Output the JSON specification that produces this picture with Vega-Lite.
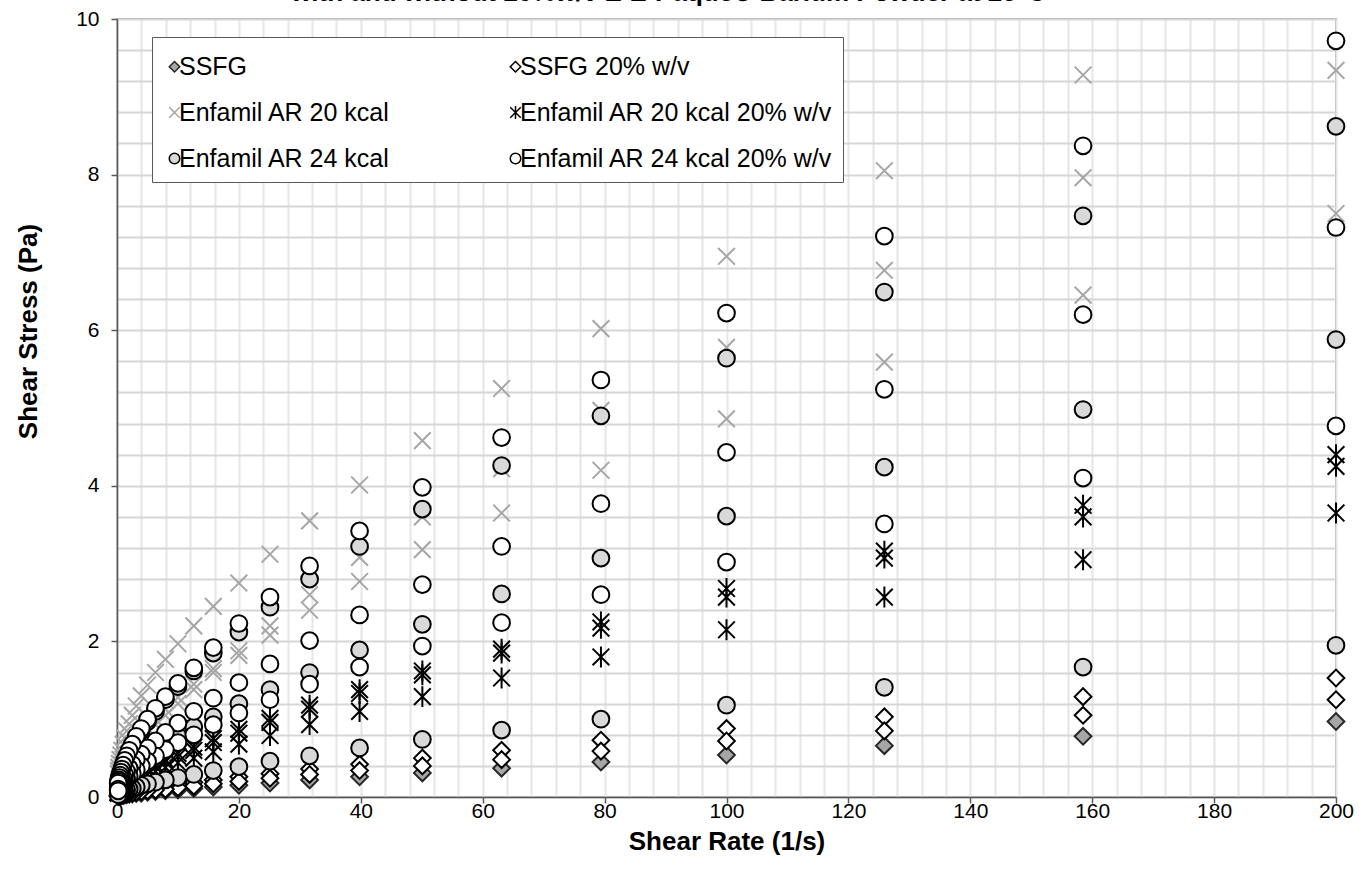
{
"$schema":"https://vega.github.io/schema/vega-lite/v6.json",
"width":1219,"height":778,
"autosize":{"type":"none"},
"padding":{"left":117,"top":19,"right":35,"bottom":72},
"background":"white",
"config":{"view":{"stroke":"#8c8c8c","strokeWidth":1.5},"font":"Liberation Sans"},
"title":{"text":"with and without 20%w/v E-Z-Paque® Barium Powder at 25°C","fontSize":26,"fontWeight":"bold","font":"Liberation Sans","color":"#000000","anchor":"middle","dx":-58,"offset":2},
"data":{"values":[
{"series":"SSFG","rate":200,"stress":0.97},{"series":"SSFG","rate":158.5,"stress":0.78},{"series":"SSFG","rate":125.9,"stress":0.66},{"series":"SSFG","rate":100,"stress":0.54},{"series":"SSFG","rate":79.4,"stress":0.45},{"series":"SSFG","rate":63.1,"stress":0.37},{"series":"SSFG","rate":50.1,"stress":0.31},{"series":"SSFG","rate":39.8,"stress":0.26},{"series":"SSFG","rate":31.6,"stress":0.22},{"series":"SSFG","rate":25.1,"stress":0.18},{"series":"SSFG","rate":20,"stress":0.15},{"series":"SSFG","rate":15.8,"stress":0.13},{"series":"SSFG","rate":12.6,"stress":0.11},{"series":"SSFG","rate":10,"stress":0.09},{"series":"SSFG","rate":7.94,"stress":0.08},{"series":"SSFG","rate":6.31,"stress":0.07},{"series":"SSFG","rate":5.01,"stress":0.06},{"series":"SSFG","rate":3.98,"stress":0.05},{"series":"SSFG","rate":3.16,"stress":0.045},{"series":"SSFG","rate":2.51,"stress":0.04},{"series":"SSFG","rate":2,"stress":0.035},{"series":"SSFG","rate":1.58,"stress":0.03},{"series":"SSFG","rate":1.26,"stress":0.025},{"series":"SSFG","rate":1,"stress":0.02},{"series":"SSFG","rate":0.794,"stress":0.018},{"series":"SSFG","rate":0.631,"stress":0.016},{"series":"SSFG","rate":0.501,"stress":0.014},{"series":"SSFG","rate":0.398,"stress":0.012},{"series":"SSFG","rate":0.316,"stress":0.011},{"series":"SSFG","rate":0.251,"stress":0.01},{"series":"SSFG","rate":0.2,"stress":0.009},
{"series":"SSFG 20% w/v","rate":200,"stress":1.53},{"series":"SSFG 20% w/v","rate":200,"stress":1.25},
{"series":"SSFG 20% w/v","rate":158.5,"stress":1.29},{"series":"SSFG 20% w/v","rate":158.5,"stress":1.05},
{"series":"SSFG 20% w/v","rate":125.9,"stress":1.03},{"series":"SSFG 20% w/v","rate":125.9,"stress":0.85},
{"series":"SSFG 20% w/v","rate":100,"stress":0.88},{"series":"SSFG 20% w/v","rate":100,"stress":0.72},
{"series":"SSFG 20% w/v","rate":79.4,"stress":0.73},{"series":"SSFG 20% w/v","rate":79.4,"stress":0.59},
{"series":"SSFG 20% w/v","rate":63.1,"stress":0.6},{"series":"SSFG 20% w/v","rate":63.1,"stress":0.48},
{"series":"SSFG 20% w/v","rate":50.1,"stress":0.5},{"series":"SSFG 20% w/v","rate":50.1,"stress":0.4},
{"series":"SSFG 20% w/v","rate":39.8,"stress":0.42},{"series":"SSFG 20% w/v","rate":39.8,"stress":0.34},
{"series":"SSFG 20% w/v","rate":31.6,"stress":0.36},{"series":"SSFG 20% w/v","rate":31.6,"stress":0.29},
{"series":"SSFG 20% w/v","rate":25.1,"stress":0.3},{"series":"SSFG 20% w/v","rate":25.1,"stress":0.24},
{"series":"SSFG 20% w/v","rate":20,"stress":0.26},{"series":"SSFG 20% w/v","rate":20,"stress":0.2},
{"series":"SSFG 20% w/v","rate":15.8,"stress":0.22},{"series":"SSFG 20% w/v","rate":15.8,"stress":0.17},
{"series":"SSFG 20% w/v","rate":12.6,"stress":0.19},{"series":"SSFG 20% w/v","rate":12.6,"stress":0.14},
{"series":"SSFG 20% w/v","rate":10,"stress":0.16},{"series":"SSFG 20% w/v","rate":10,"stress":0.12},
{"series":"SSFG 20% w/v","rate":7.94,"stress":0.14},{"series":"SSFG 20% w/v","rate":7.94,"stress":0.1},
{"series":"SSFG 20% w/v","rate":6.31,"stress":0.12},{"series":"SSFG 20% w/v","rate":6.31,"stress":0.09},
{"series":"SSFG 20% w/v","rate":5.01,"stress":0.1},{"series":"SSFG 20% w/v","rate":5.01,"stress":0.08},
{"series":"SSFG 20% w/v","rate":3.98,"stress":0.09},{"series":"SSFG 20% w/v","rate":3.98,"stress":0.07},
{"series":"SSFG 20% w/v","rate":3.16,"stress":0.08},{"series":"SSFG 20% w/v","rate":3.16,"stress":0.06},
{"series":"SSFG 20% w/v","rate":2.51,"stress":0.07},{"series":"SSFG 20% w/v","rate":2.51,"stress":0.05},
{"series":"SSFG 20% w/v","rate":2,"stress":0.06},{"series":"SSFG 20% w/v","rate":2,"stress":0.045},
{"series":"SSFG 20% w/v","rate":1.58,"stress":0.05},{"series":"SSFG 20% w/v","rate":1.58,"stress":0.04},
{"series":"SSFG 20% w/v","rate":1.26,"stress":0.045},{"series":"SSFG 20% w/v","rate":1.26,"stress":0.035},
{"series":"SSFG 20% w/v","rate":1,"stress":0.04},{"series":"SSFG 20% w/v","rate":1,"stress":0.03},
{"series":"SSFG 20% w/v","rate":0.794,"stress":0.035},{"series":"SSFG 20% w/v","rate":0.794,"stress":0.025},
{"series":"SSFG 20% w/v","rate":0.631,"stress":0.03},{"series":"SSFG 20% w/v","rate":0.631,"stress":0.022},
{"series":"SSFG 20% w/v","rate":0.501,"stress":0.027},{"series":"SSFG 20% w/v","rate":0.501,"stress":0.02},
{"series":"SSFG 20% w/v","rate":0.398,"stress":0.024},{"series":"SSFG 20% w/v","rate":0.398,"stress":0.018},
{"series":"SSFG 20% w/v","rate":0.316,"stress":0.021},{"series":"SSFG 20% w/v","rate":0.316,"stress":0.016},
{"series":"SSFG 20% w/v","rate":0.251,"stress":0.019},{"series":"SSFG 20% w/v","rate":0.251,"stress":0.014},
{"series":"SSFG 20% w/v","rate":0.2,"stress":0.017},{"series":"SSFG 20% w/v","rate":0.2,"stress":0.012},
{"series":"Enfamil AR 20 kcal","rate":200,"stress":9.34},{"series":"Enfamil AR 20 kcal","rate":200,"stress":7.5},
{"series":"Enfamil AR 20 kcal","rate":158.5,"stress":9.28},{"series":"Enfamil AR 20 kcal","rate":158.5,"stress":7.96},{"series":"Enfamil AR 20 kcal","rate":158.5,"stress":6.45},
{"series":"Enfamil AR 20 kcal","rate":125.9,"stress":8.05},{"series":"Enfamil AR 20 kcal","rate":125.9,"stress":6.77},{"series":"Enfamil AR 20 kcal","rate":125.9,"stress":5.59},
{"series":"Enfamil AR 20 kcal","rate":100,"stress":6.95},{"series":"Enfamil AR 20 kcal","rate":100,"stress":5.78},{"series":"Enfamil AR 20 kcal","rate":100,"stress":4.86},
{"series":"Enfamil AR 20 kcal","rate":79.4,"stress":6.02},{"series":"Enfamil AR 20 kcal","rate":79.4,"stress":4.97},{"series":"Enfamil AR 20 kcal","rate":79.4,"stress":4.2},
{"series":"Enfamil AR 20 kcal","rate":63.1,"stress":5.25},{"series":"Enfamil AR 20 kcal","rate":63.1,"stress":4.22},{"series":"Enfamil AR 20 kcal","rate":63.1,"stress":3.65},
{"series":"Enfamil AR 20 kcal","rate":50.1,"stress":4.58},{"series":"Enfamil AR 20 kcal","rate":50.1,"stress":3.6},{"series":"Enfamil AR 20 kcal","rate":50.1,"stress":3.18},
{"series":"Enfamil AR 20 kcal","rate":39.8,"stress":4.01},{"series":"Enfamil AR 20 kcal","rate":39.8,"stress":3.08},{"series":"Enfamil AR 20 kcal","rate":39.8,"stress":2.77},
{"series":"Enfamil AR 20 kcal","rate":31.6,"stress":3.55},{"series":"Enfamil AR 20 kcal","rate":31.6,"stress":2.6},{"series":"Enfamil AR 20 kcal","rate":31.6,"stress":2.4},
{"series":"Enfamil AR 20 kcal","rate":25.1,"stress":3.12},{"series":"Enfamil AR 20 kcal","rate":25.1,"stress":2.2},{"series":"Enfamil AR 20 kcal","rate":25.1,"stress":2.08},
{"series":"Enfamil AR 20 kcal","rate":20,"stress":2.75},{"series":"Enfamil AR 20 kcal","rate":20,"stress":1.88},{"series":"Enfamil AR 20 kcal","rate":20,"stress":1.82},
{"series":"Enfamil AR 20 kcal","rate":15.8,"stress":2.45},{"series":"Enfamil AR 20 kcal","rate":15.8,"stress":1.65},{"series":"Enfamil AR 20 kcal","rate":15.8,"stress":1.6},
{"series":"Enfamil AR 20 kcal","rate":12.6,"stress":2.2},{"series":"Enfamil AR 20 kcal","rate":12.6,"stress":1.45},{"series":"Enfamil AR 20 kcal","rate":12.6,"stress":1.38},
{"series":"Enfamil AR 20 kcal","rate":10,"stress":1.97},{"series":"Enfamil AR 20 kcal","rate":10,"stress":1.28},{"series":"Enfamil AR 20 kcal","rate":10,"stress":1.2},
{"series":"Enfamil AR 20 kcal","rate":7.94,"stress":1.77},{"series":"Enfamil AR 20 kcal","rate":7.94,"stress":1.13},{"series":"Enfamil AR 20 kcal","rate":7.94,"stress":1.05},
{"series":"Enfamil AR 20 kcal","rate":6.31,"stress":1.6},{"series":"Enfamil AR 20 kcal","rate":6.31,"stress":1.0},{"series":"Enfamil AR 20 kcal","rate":6.31,"stress":0.93},
{"series":"Enfamil AR 20 kcal","rate":5.01,"stress":1.44},{"series":"Enfamil AR 20 kcal","rate":5.01,"stress":0.88},{"series":"Enfamil AR 20 kcal","rate":5.01,"stress":0.82},
{"series":"Enfamil AR 20 kcal","rate":3.98,"stress":1.3},{"series":"Enfamil AR 20 kcal","rate":3.98,"stress":0.78},{"series":"Enfamil AR 20 kcal","rate":3.98,"stress":0.72},
{"series":"Enfamil AR 20 kcal","rate":3.16,"stress":1.17},{"series":"Enfamil AR 20 kcal","rate":3.16,"stress":0.69},{"series":"Enfamil AR 20 kcal","rate":3.16,"stress":0.64},
{"series":"Enfamil AR 20 kcal","rate":2.51,"stress":1.05},{"series":"Enfamil AR 20 kcal","rate":2.51,"stress":0.61},{"series":"Enfamil AR 20 kcal","rate":2.51,"stress":0.56},
{"series":"Enfamil AR 20 kcal","rate":2,"stress":0.94},{"series":"Enfamil AR 20 kcal","rate":2,"stress":0.54},{"series":"Enfamil AR 20 kcal","rate":2,"stress":0.5},
{"series":"Enfamil AR 20 kcal","rate":1.58,"stress":0.85},{"series":"Enfamil AR 20 kcal","rate":1.58,"stress":0.48},{"series":"Enfamil AR 20 kcal","rate":1.58,"stress":0.44},
{"series":"Enfamil AR 20 kcal","rate":1.26,"stress":0.76},{"series":"Enfamil AR 20 kcal","rate":1.26,"stress":0.42},{"series":"Enfamil AR 20 kcal","rate":1.26,"stress":0.39},
{"series":"Enfamil AR 20 kcal","rate":1,"stress":0.68},{"series":"Enfamil AR 20 kcal","rate":1,"stress":0.37},{"series":"Enfamil AR 20 kcal","rate":1,"stress":0.35},
{"series":"Enfamil AR 20 kcal","rate":0.794,"stress":0.6},{"series":"Enfamil AR 20 kcal","rate":0.794,"stress":0.33},{"series":"Enfamil AR 20 kcal","rate":0.794,"stress":0.31},
{"series":"Enfamil AR 20 kcal","rate":0.631,"stress":0.54},{"series":"Enfamil AR 20 kcal","rate":0.631,"stress":0.29},{"series":"Enfamil AR 20 kcal","rate":0.631,"stress":0.27},
{"series":"Enfamil AR 20 kcal","rate":0.501,"stress":0.48},{"series":"Enfamil AR 20 kcal","rate":0.501,"stress":0.26},{"series":"Enfamil AR 20 kcal","rate":0.501,"stress":0.24},
{"series":"Enfamil AR 20 kcal","rate":0.398,"stress":0.43},{"series":"Enfamil AR 20 kcal","rate":0.398,"stress":0.23},{"series":"Enfamil AR 20 kcal","rate":0.398,"stress":0.21},
{"series":"Enfamil AR 20 kcal","rate":0.316,"stress":0.38},{"series":"Enfamil AR 20 kcal","rate":0.316,"stress":0.2},{"series":"Enfamil AR 20 kcal","rate":0.316,"stress":0.19},
{"series":"Enfamil AR 20 kcal","rate":0.251,"stress":0.34},{"series":"Enfamil AR 20 kcal","rate":0.251,"stress":0.18},{"series":"Enfamil AR 20 kcal","rate":0.251,"stress":0.17},
{"series":"Enfamil AR 20 kcal","rate":0.2,"stress":0.3},{"series":"Enfamil AR 20 kcal","rate":0.2,"stress":0.16},{"series":"Enfamil AR 20 kcal","rate":0.2,"stress":0.15},
{"series":"Enfamil AR 20 kcal 20% w/v","rate":200,"stress":4.4},{"series":"Enfamil AR 20 kcal 20% w/v","rate":200,"stress":4.25},{"series":"Enfamil AR 20 kcal 20% w/v","rate":200,"stress":3.65},
{"series":"Enfamil AR 20 kcal 20% w/v","rate":158.5,"stress":3.75},{"series":"Enfamil AR 20 kcal 20% w/v","rate":158.5,"stress":3.6},{"series":"Enfamil AR 20 kcal 20% w/v","rate":158.5,"stress":3.05},
{"series":"Enfamil AR 20 kcal 20% w/v","rate":125.9,"stress":3.16},{"series":"Enfamil AR 20 kcal 20% w/v","rate":125.9,"stress":3.07},{"series":"Enfamil AR 20 kcal 20% w/v","rate":125.9,"stress":2.57},
{"series":"Enfamil AR 20 kcal 20% w/v","rate":100,"stress":2.68},{"series":"Enfamil AR 20 kcal 20% w/v","rate":100,"stress":2.57},{"series":"Enfamil AR 20 kcal 20% w/v","rate":100,"stress":2.15},
{"series":"Enfamil AR 20 kcal 20% w/v","rate":79.4,"stress":2.25},{"series":"Enfamil AR 20 kcal 20% w/v","rate":79.4,"stress":2.17},{"series":"Enfamil AR 20 kcal 20% w/v","rate":79.4,"stress":1.8},
{"series":"Enfamil AR 20 kcal 20% w/v","rate":63.1,"stress":1.9},{"series":"Enfamil AR 20 kcal 20% w/v","rate":63.1,"stress":1.85},{"series":"Enfamil AR 20 kcal 20% w/v","rate":63.1,"stress":1.53},
{"series":"Enfamil AR 20 kcal 20% w/v","rate":50.1,"stress":1.62},{"series":"Enfamil AR 20 kcal 20% w/v","rate":50.1,"stress":1.57},{"series":"Enfamil AR 20 kcal 20% w/v","rate":50.1,"stress":1.29},
{"series":"Enfamil AR 20 kcal 20% w/v","rate":39.8,"stress":1.38},{"series":"Enfamil AR 20 kcal 20% w/v","rate":39.8,"stress":1.33},{"series":"Enfamil AR 20 kcal 20% w/v","rate":39.8,"stress":1.1},
{"series":"Enfamil AR 20 kcal 20% w/v","rate":31.6,"stress":1.18},{"series":"Enfamil AR 20 kcal 20% w/v","rate":31.6,"stress":1.13},{"series":"Enfamil AR 20 kcal 20% w/v","rate":31.6,"stress":0.93},
{"series":"Enfamil AR 20 kcal 20% w/v","rate":25.1,"stress":1.01},{"series":"Enfamil AR 20 kcal 20% w/v","rate":25.1,"stress":0.96},{"series":"Enfamil AR 20 kcal 20% w/v","rate":25.1,"stress":0.79},
{"series":"Enfamil AR 20 kcal 20% w/v","rate":20,"stress":0.87},{"series":"Enfamil AR 20 kcal 20% w/v","rate":20,"stress":0.82},{"series":"Enfamil AR 20 kcal 20% w/v","rate":20,"stress":0.68},
{"series":"Enfamil AR 20 kcal 20% w/v","rate":15.8,"stress":0.75},{"series":"Enfamil AR 20 kcal 20% w/v","rate":15.8,"stress":0.7},{"series":"Enfamil AR 20 kcal 20% w/v","rate":15.8,"stress":0.58},
{"series":"Enfamil AR 20 kcal 20% w/v","rate":12.6,"stress":0.64},{"series":"Enfamil AR 20 kcal 20% w/v","rate":12.6,"stress":0.6},{"series":"Enfamil AR 20 kcal 20% w/v","rate":12.6,"stress":0.5},
{"series":"Enfamil AR 20 kcal 20% w/v","rate":10,"stress":0.56},{"series":"Enfamil AR 20 kcal 20% w/v","rate":10,"stress":0.52},{"series":"Enfamil AR 20 kcal 20% w/v","rate":10,"stress":0.44},
{"series":"Enfamil AR 20 kcal 20% w/v","rate":7.94,"stress":0.48},{"series":"Enfamil AR 20 kcal 20% w/v","rate":7.94,"stress":0.45},{"series":"Enfamil AR 20 kcal 20% w/v","rate":7.94,"stress":0.38},
{"series":"Enfamil AR 20 kcal 20% w/v","rate":6.31,"stress":0.42},{"series":"Enfamil AR 20 kcal 20% w/v","rate":6.31,"stress":0.39},{"series":"Enfamil AR 20 kcal 20% w/v","rate":6.31,"stress":0.33},
{"series":"Enfamil AR 20 kcal 20% w/v","rate":5.01,"stress":0.37},{"series":"Enfamil AR 20 kcal 20% w/v","rate":5.01,"stress":0.34},{"series":"Enfamil AR 20 kcal 20% w/v","rate":5.01,"stress":0.29},
{"series":"Enfamil AR 20 kcal 20% w/v","rate":3.98,"stress":0.32},{"series":"Enfamil AR 20 kcal 20% w/v","rate":3.98,"stress":0.3},{"series":"Enfamil AR 20 kcal 20% w/v","rate":3.98,"stress":0.25},
{"series":"Enfamil AR 20 kcal 20% w/v","rate":3.16,"stress":0.28},{"series":"Enfamil AR 20 kcal 20% w/v","rate":3.16,"stress":0.26},{"series":"Enfamil AR 20 kcal 20% w/v","rate":3.16,"stress":0.22},
{"series":"Enfamil AR 20 kcal 20% w/v","rate":2.51,"stress":0.25},{"series":"Enfamil AR 20 kcal 20% w/v","rate":2.51,"stress":0.23},{"series":"Enfamil AR 20 kcal 20% w/v","rate":2.51,"stress":0.19},
{"series":"Enfamil AR 20 kcal 20% w/v","rate":2,"stress":0.22},{"series":"Enfamil AR 20 kcal 20% w/v","rate":2,"stress":0.2},{"series":"Enfamil AR 20 kcal 20% w/v","rate":2,"stress":0.17},
{"series":"Enfamil AR 20 kcal 20% w/v","rate":1.58,"stress":0.19},{"series":"Enfamil AR 20 kcal 20% w/v","rate":1.58,"stress":0.18},{"series":"Enfamil AR 20 kcal 20% w/v","rate":1.58,"stress":0.15},
{"series":"Enfamil AR 20 kcal 20% w/v","rate":1.26,"stress":0.17},{"series":"Enfamil AR 20 kcal 20% w/v","rate":1.26,"stress":0.16},{"series":"Enfamil AR 20 kcal 20% w/v","rate":1.26,"stress":0.13},
{"series":"Enfamil AR 20 kcal 20% w/v","rate":1,"stress":0.15},{"series":"Enfamil AR 20 kcal 20% w/v","rate":1,"stress":0.14},{"series":"Enfamil AR 20 kcal 20% w/v","rate":1,"stress":0.11},
{"series":"Enfamil AR 20 kcal 20% w/v","rate":0.794,"stress":0.13},{"series":"Enfamil AR 20 kcal 20% w/v","rate":0.794,"stress":0.12},{"series":"Enfamil AR 20 kcal 20% w/v","rate":0.794,"stress":0.1},
{"series":"Enfamil AR 20 kcal 20% w/v","rate":0.631,"stress":0.12},{"series":"Enfamil AR 20 kcal 20% w/v","rate":0.631,"stress":0.11},{"series":"Enfamil AR 20 kcal 20% w/v","rate":0.631,"stress":0.09},
{"series":"Enfamil AR 20 kcal 20% w/v","rate":0.501,"stress":0.1},{"series":"Enfamil AR 20 kcal 20% w/v","rate":0.501,"stress":0.095},{"series":"Enfamil AR 20 kcal 20% w/v","rate":0.501,"stress":0.08},
{"series":"Enfamil AR 20 kcal 20% w/v","rate":0.398,"stress":0.09},{"series":"Enfamil AR 20 kcal 20% w/v","rate":0.398,"stress":0.085},{"series":"Enfamil AR 20 kcal 20% w/v","rate":0.398,"stress":0.07},
{"series":"Enfamil AR 20 kcal 20% w/v","rate":0.316,"stress":0.08},{"series":"Enfamil AR 20 kcal 20% w/v","rate":0.316,"stress":0.075},{"series":"Enfamil AR 20 kcal 20% w/v","rate":0.316,"stress":0.06},
{"series":"Enfamil AR 20 kcal 20% w/v","rate":0.251,"stress":0.07},{"series":"Enfamil AR 20 kcal 20% w/v","rate":0.251,"stress":0.065},{"series":"Enfamil AR 20 kcal 20% w/v","rate":0.251,"stress":0.055},
{"series":"Enfamil AR 20 kcal 20% w/v","rate":0.2,"stress":0.06},{"series":"Enfamil AR 20 kcal 20% w/v","rate":0.2,"stress":0.058},{"series":"Enfamil AR 20 kcal 20% w/v","rate":0.2,"stress":0.05},
{"series":"Enfamil AR 24 kcal","rate":200,"stress":8.62},{"series":"Enfamil AR 24 kcal","rate":200,"stress":5.88},{"series":"Enfamil AR 24 kcal","rate":200,"stress":1.95},
{"series":"Enfamil AR 24 kcal","rate":158.5,"stress":7.47},{"series":"Enfamil AR 24 kcal","rate":158.5,"stress":4.98},{"series":"Enfamil AR 24 kcal","rate":158.5,"stress":1.67},
{"series":"Enfamil AR 24 kcal","rate":125.9,"stress":6.49},{"series":"Enfamil AR 24 kcal","rate":125.9,"stress":4.24},{"series":"Enfamil AR 24 kcal","rate":125.9,"stress":1.41},
{"series":"Enfamil AR 24 kcal","rate":100,"stress":5.64},{"series":"Enfamil AR 24 kcal","rate":100,"stress":3.61},{"series":"Enfamil AR 24 kcal","rate":100,"stress":1.18},
{"series":"Enfamil AR 24 kcal","rate":79.4,"stress":4.9},{"series":"Enfamil AR 24 kcal","rate":79.4,"stress":3.07},{"series":"Enfamil AR 24 kcal","rate":79.4,"stress":1.0},
{"series":"Enfamil AR 24 kcal","rate":63.1,"stress":4.26},{"series":"Enfamil AR 24 kcal","rate":63.1,"stress":2.61},{"series":"Enfamil AR 24 kcal","rate":63.1,"stress":0.86},
{"series":"Enfamil AR 24 kcal","rate":50.1,"stress":3.7},{"series":"Enfamil AR 24 kcal","rate":50.1,"stress":2.22},{"series":"Enfamil AR 24 kcal","rate":50.1,"stress":0.74},
{"series":"Enfamil AR 24 kcal","rate":39.8,"stress":3.22},{"series":"Enfamil AR 24 kcal","rate":39.8,"stress":1.89},{"series":"Enfamil AR 24 kcal","rate":39.8,"stress":0.63},
{"series":"Enfamil AR 24 kcal","rate":31.6,"stress":2.8},{"series":"Enfamil AR 24 kcal","rate":31.6,"stress":1.6},{"series":"Enfamil AR 24 kcal","rate":31.6,"stress":0.53},
{"series":"Enfamil AR 24 kcal","rate":25.1,"stress":2.44},{"series":"Enfamil AR 24 kcal","rate":25.1,"stress":1.38},{"series":"Enfamil AR 24 kcal","rate":25.1,"stress":0.46},
{"series":"Enfamil AR 24 kcal","rate":20,"stress":2.12},{"series":"Enfamil AR 24 kcal","rate":20,"stress":1.2},{"series":"Enfamil AR 24 kcal","rate":20,"stress":0.39},
{"series":"Enfamil AR 24 kcal","rate":15.8,"stress":1.85},{"series":"Enfamil AR 24 kcal","rate":15.8,"stress":1.03},{"series":"Enfamil AR 24 kcal","rate":15.8,"stress":0.34},
{"series":"Enfamil AR 24 kcal","rate":12.6,"stress":1.62},{"series":"Enfamil AR 24 kcal","rate":12.6,"stress":0.9},{"series":"Enfamil AR 24 kcal","rate":12.6,"stress":0.29},
{"series":"Enfamil AR 24 kcal","rate":10,"stress":1.42},{"series":"Enfamil AR 24 kcal","rate":10,"stress":0.78},{"series":"Enfamil AR 24 kcal","rate":10,"stress":0.25},
{"series":"Enfamil AR 24 kcal","rate":7.94,"stress":1.25},{"series":"Enfamil AR 24 kcal","rate":7.94,"stress":0.68},{"series":"Enfamil AR 24 kcal","rate":7.94,"stress":0.22},
{"series":"Enfamil AR 24 kcal","rate":6.31,"stress":1.1},{"series":"Enfamil AR 24 kcal","rate":6.31,"stress":0.59},{"series":"Enfamil AR 24 kcal","rate":6.31,"stress":0.19},
{"series":"Enfamil AR 24 kcal","rate":5.01,"stress":0.97},{"series":"Enfamil AR 24 kcal","rate":5.01,"stress":0.52},{"series":"Enfamil AR 24 kcal","rate":5.01,"stress":0.17},
{"series":"Enfamil AR 24 kcal","rate":3.98,"stress":0.85},{"series":"Enfamil AR 24 kcal","rate":3.98,"stress":0.45},{"series":"Enfamil AR 24 kcal","rate":3.98,"stress":0.15},
{"series":"Enfamil AR 24 kcal","rate":3.16,"stress":0.75},{"series":"Enfamil AR 24 kcal","rate":3.16,"stress":0.39},{"series":"Enfamil AR 24 kcal","rate":3.16,"stress":0.13},
{"series":"Enfamil AR 24 kcal","rate":2.51,"stress":0.66},{"series":"Enfamil AR 24 kcal","rate":2.51,"stress":0.34},{"series":"Enfamil AR 24 kcal","rate":2.51,"stress":0.11},
{"series":"Enfamil AR 24 kcal","rate":2,"stress":0.58},{"series":"Enfamil AR 24 kcal","rate":2,"stress":0.3},{"series":"Enfamil AR 24 kcal","rate":2,"stress":0.1},
{"series":"Enfamil AR 24 kcal","rate":1.58,"stress":0.51},{"series":"Enfamil AR 24 kcal","rate":1.58,"stress":0.26},{"series":"Enfamil AR 24 kcal","rate":1.58,"stress":0.09},
{"series":"Enfamil AR 24 kcal","rate":1.26,"stress":0.45},{"series":"Enfamil AR 24 kcal","rate":1.26,"stress":0.23},{"series":"Enfamil AR 24 kcal","rate":1.26,"stress":0.08},
{"series":"Enfamil AR 24 kcal","rate":1,"stress":0.4},{"series":"Enfamil AR 24 kcal","rate":1,"stress":0.2},{"series":"Enfamil AR 24 kcal","rate":1,"stress":0.07},
{"series":"Enfamil AR 24 kcal","rate":0.794,"stress":0.35},{"series":"Enfamil AR 24 kcal","rate":0.794,"stress":0.18},{"series":"Enfamil AR 24 kcal","rate":0.794,"stress":0.06},
{"series":"Enfamil AR 24 kcal","rate":0.631,"stress":0.31},{"series":"Enfamil AR 24 kcal","rate":0.631,"stress":0.16},{"series":"Enfamil AR 24 kcal","rate":0.631,"stress":0.055},
{"series":"Enfamil AR 24 kcal","rate":0.501,"stress":0.27},{"series":"Enfamil AR 24 kcal","rate":0.501,"stress":0.14},{"series":"Enfamil AR 24 kcal","rate":0.501,"stress":0.05},
{"series":"Enfamil AR 24 kcal","rate":0.398,"stress":0.24},{"series":"Enfamil AR 24 kcal","rate":0.398,"stress":0.12},{"series":"Enfamil AR 24 kcal","rate":0.398,"stress":0.045},
{"series":"Enfamil AR 24 kcal","rate":0.316,"stress":0.21},{"series":"Enfamil AR 24 kcal","rate":0.316,"stress":0.11},{"series":"Enfamil AR 24 kcal","rate":0.316,"stress":0.04},
{"series":"Enfamil AR 24 kcal","rate":0.251,"stress":0.19},{"series":"Enfamil AR 24 kcal","rate":0.251,"stress":0.1},{"series":"Enfamil AR 24 kcal","rate":0.251,"stress":0.035},
{"series":"Enfamil AR 24 kcal","rate":0.2,"stress":0.17},{"series":"Enfamil AR 24 kcal","rate":0.2,"stress":0.09},{"series":"Enfamil AR 24 kcal","rate":0.2,"stress":0.03},
{"series":"Enfamil AR 24 kcal 20% w/v","rate":200,"stress":9.72},{"series":"Enfamil AR 24 kcal 20% w/v","rate":200,"stress":7.32},{"series":"Enfamil AR 24 kcal 20% w/v","rate":200,"stress":4.77},
{"series":"Enfamil AR 24 kcal 20% w/v","rate":158.5,"stress":8.37},{"series":"Enfamil AR 24 kcal 20% w/v","rate":158.5,"stress":6.2},{"series":"Enfamil AR 24 kcal 20% w/v","rate":158.5,"stress":4.1},
{"series":"Enfamil AR 24 kcal 20% w/v","rate":125.9,"stress":7.21},{"series":"Enfamil AR 24 kcal 20% w/v","rate":125.9,"stress":5.24},{"series":"Enfamil AR 24 kcal 20% w/v","rate":125.9,"stress":3.51},
{"series":"Enfamil AR 24 kcal 20% w/v","rate":100,"stress":6.22},{"series":"Enfamil AR 24 kcal 20% w/v","rate":100,"stress":4.43},{"series":"Enfamil AR 24 kcal 20% w/v","rate":100,"stress":3.02},
{"series":"Enfamil AR 24 kcal 20% w/v","rate":79.4,"stress":5.36},{"series":"Enfamil AR 24 kcal 20% w/v","rate":79.4,"stress":3.77},{"series":"Enfamil AR 24 kcal 20% w/v","rate":79.4,"stress":2.6},
{"series":"Enfamil AR 24 kcal 20% w/v","rate":63.1,"stress":4.62},{"series":"Enfamil AR 24 kcal 20% w/v","rate":63.1,"stress":3.22},{"series":"Enfamil AR 24 kcal 20% w/v","rate":63.1,"stress":2.24},
{"series":"Enfamil AR 24 kcal 20% w/v","rate":50.1,"stress":3.98},{"series":"Enfamil AR 24 kcal 20% w/v","rate":50.1,"stress":2.73},{"series":"Enfamil AR 24 kcal 20% w/v","rate":50.1,"stress":1.94},
{"series":"Enfamil AR 24 kcal 20% w/v","rate":39.8,"stress":3.42},{"series":"Enfamil AR 24 kcal 20% w/v","rate":39.8,"stress":2.34},{"series":"Enfamil AR 24 kcal 20% w/v","rate":39.8,"stress":1.67},
{"series":"Enfamil AR 24 kcal 20% w/v","rate":31.6,"stress":2.97},{"series":"Enfamil AR 24 kcal 20% w/v","rate":31.6,"stress":2.01},{"series":"Enfamil AR 24 kcal 20% w/v","rate":31.6,"stress":1.45},
{"series":"Enfamil AR 24 kcal 20% w/v","rate":25.1,"stress":2.57},{"series":"Enfamil AR 24 kcal 20% w/v","rate":25.1,"stress":1.71},{"series":"Enfamil AR 24 kcal 20% w/v","rate":25.1,"stress":1.25},
{"series":"Enfamil AR 24 kcal 20% w/v","rate":20,"stress":2.23},{"series":"Enfamil AR 24 kcal 20% w/v","rate":20,"stress":1.47},{"series":"Enfamil AR 24 kcal 20% w/v","rate":20,"stress":1.08},
{"series":"Enfamil AR 24 kcal 20% w/v","rate":15.8,"stress":1.92},{"series":"Enfamil AR 24 kcal 20% w/v","rate":15.8,"stress":1.27},{"series":"Enfamil AR 24 kcal 20% w/v","rate":15.8,"stress":0.93},
{"series":"Enfamil AR 24 kcal 20% w/v","rate":12.6,"stress":1.66},{"series":"Enfamil AR 24 kcal 20% w/v","rate":12.6,"stress":1.1},{"series":"Enfamil AR 24 kcal 20% w/v","rate":12.6,"stress":0.8},
{"series":"Enfamil AR 24 kcal 20% w/v","rate":10,"stress":1.46},{"series":"Enfamil AR 24 kcal 20% w/v","rate":10,"stress":0.95},{"series":"Enfamil AR 24 kcal 20% w/v","rate":10,"stress":0.7},
{"series":"Enfamil AR 24 kcal 20% w/v","rate":7.94,"stress":1.29},{"series":"Enfamil AR 24 kcal 20% w/v","rate":7.94,"stress":0.83},{"series":"Enfamil AR 24 kcal 20% w/v","rate":7.94,"stress":0.61},
{"series":"Enfamil AR 24 kcal 20% w/v","rate":6.31,"stress":1.14},{"series":"Enfamil AR 24 kcal 20% w/v","rate":6.31,"stress":0.72},{"series":"Enfamil AR 24 kcal 20% w/v","rate":6.31,"stress":0.53},
{"series":"Enfamil AR 24 kcal 20% w/v","rate":5.01,"stress":1.0},{"series":"Enfamil AR 24 kcal 20% w/v","rate":5.01,"stress":0.63},{"series":"Enfamil AR 24 kcal 20% w/v","rate":5.01,"stress":0.46},
{"series":"Enfamil AR 24 kcal 20% w/v","rate":3.98,"stress":0.88},{"series":"Enfamil AR 24 kcal 20% w/v","rate":3.98,"stress":0.55},{"series":"Enfamil AR 24 kcal 20% w/v","rate":3.98,"stress":0.4},
{"series":"Enfamil AR 24 kcal 20% w/v","rate":3.16,"stress":0.78},{"series":"Enfamil AR 24 kcal 20% w/v","rate":3.16,"stress":0.48},{"series":"Enfamil AR 24 kcal 20% w/v","rate":3.16,"stress":0.35},
{"series":"Enfamil AR 24 kcal 20% w/v","rate":2.51,"stress":0.68},{"series":"Enfamil AR 24 kcal 20% w/v","rate":2.51,"stress":0.42},{"series":"Enfamil AR 24 kcal 20% w/v","rate":2.51,"stress":0.3},
{"series":"Enfamil AR 24 kcal 20% w/v","rate":2,"stress":0.6},{"series":"Enfamil AR 24 kcal 20% w/v","rate":2,"stress":0.37},{"series":"Enfamil AR 24 kcal 20% w/v","rate":2,"stress":0.27},
{"series":"Enfamil AR 24 kcal 20% w/v","rate":1.58,"stress":0.53},{"series":"Enfamil AR 24 kcal 20% w/v","rate":1.58,"stress":0.33},{"series":"Enfamil AR 24 kcal 20% w/v","rate":1.58,"stress":0.23},
{"series":"Enfamil AR 24 kcal 20% w/v","rate":1.26,"stress":0.47},{"series":"Enfamil AR 24 kcal 20% w/v","rate":1.26,"stress":0.29},{"series":"Enfamil AR 24 kcal 20% w/v","rate":1.26,"stress":0.2},
{"series":"Enfamil AR 24 kcal 20% w/v","rate":1,"stress":0.41},{"series":"Enfamil AR 24 kcal 20% w/v","rate":1,"stress":0.25},{"series":"Enfamil AR 24 kcal 20% w/v","rate":1,"stress":0.18},
{"series":"Enfamil AR 24 kcal 20% w/v","rate":0.794,"stress":0.36},{"series":"Enfamil AR 24 kcal 20% w/v","rate":0.794,"stress":0.22},{"series":"Enfamil AR 24 kcal 20% w/v","rate":0.794,"stress":0.16},
{"series":"Enfamil AR 24 kcal 20% w/v","rate":0.631,"stress":0.32},{"series":"Enfamil AR 24 kcal 20% w/v","rate":0.631,"stress":0.19},{"series":"Enfamil AR 24 kcal 20% w/v","rate":0.631,"stress":0.14},
{"series":"Enfamil AR 24 kcal 20% w/v","rate":0.501,"stress":0.28},{"series":"Enfamil AR 24 kcal 20% w/v","rate":0.501,"stress":0.17},{"series":"Enfamil AR 24 kcal 20% w/v","rate":0.501,"stress":0.12},
{"series":"Enfamil AR 24 kcal 20% w/v","rate":0.398,"stress":0.25},{"series":"Enfamil AR 24 kcal 20% w/v","rate":0.398,"stress":0.15},{"series":"Enfamil AR 24 kcal 20% w/v","rate":0.398,"stress":0.11},
{"series":"Enfamil AR 24 kcal 20% w/v","rate":0.316,"stress":0.22},{"series":"Enfamil AR 24 kcal 20% w/v","rate":0.316,"stress":0.13},{"series":"Enfamil AR 24 kcal 20% w/v","rate":0.316,"stress":0.1},
{"series":"Enfamil AR 24 kcal 20% w/v","rate":0.251,"stress":0.2},{"series":"Enfamil AR 24 kcal 20% w/v","rate":0.251,"stress":0.12},{"series":"Enfamil AR 24 kcal 20% w/v","rate":0.251,"stress":0.09},
{"series":"Enfamil AR 24 kcal 20% w/v","rate":0.2,"stress":0.18},{"series":"Enfamil AR 24 kcal 20% w/v","rate":0.2,"stress":0.1},{"series":"Enfamil AR 24 kcal 20% w/v","rate":0.2,"stress":0.08}
]},
"mark":{"type":"point","opacity":1,"strokeWidth":2,"size":280},
"encoding":{
"x":{"field":"rate","type":"quantitative","title":"Shear Rate (1/s)","scale":{"domain":[0,200],"nice":false,"zero":false},
 "axis":{"values":[0,4,8,12,16,20,24,28,32,36,40,44,48,52,56,60,64,68,72,76,80,84,88,92,96,100,104,108,112,116,120,124,128,132,136,140,144,148,152,156,160,164,168,172,176,180,184,188,192,196,200],"tickCount":1000,"tickMinStep":1,
 "labelExpr":"datum.value % 20 === 0 ? format(datum.value, 'd') : ''",
 "tickOpacity":{"condition":{"test":"datum.value % 20 === 0","value":1},"value":0},
 "grid":true,"gridColor":"#e6e6e6","gridWidth":2,"domainColor":"#595959","domainWidth":1.5,"tickColor":"#595959","tickWidth":1.5,"tickSize":6,
 "labelFont":"Liberation Sans","labelFontSize":21,"labelColor":"#000000","labelPadding":-3,"labelFlush":false,"labelOverlap":false,
 "titleFont":"Liberation Sans","titleFontSize":26,"titleFontWeight":"bold","titleColor":"#000000","titleY":44,"titleBaseline":"middle"}},
"y":{"field":"stress","type":"quantitative","title":"Shear Stress (Pa)","scale":{"domain":[0,10],"nice":false},
 "axis":{"values":[0,0.4,0.8,1.2,1.6,2,2.4,2.8,3.2,3.6,4,4.4,4.8,5.2,5.6,6,6.4,6.8,7.2,7.6,8,8.4,8.8,9.2,9.6,10],"tickCount":1000,"tickMinStep":0.1,
 "labelExpr":"datum.value % 2 === 0 ? format(datum.value, 'd') : ''",
 "tickOpacity":{"condition":{"test":"datum.value % 2 === 0","value":1},"value":0},
 "grid":true,"gridColor":"#d6d6d6","gridWidth":2,"domainColor":"#595959","domainWidth":1.5,"tickColor":"#595959","tickWidth":1.5,"tickSize":6,
 "labelFont":"Liberation Sans","labelFontSize":21,"labelColor":"#000000","labelPadding":12,"labelOverlap":false,"labelFlush":false,
 "titleFont":"Liberation Sans","titleFontSize":26,"titleFontWeight":"bold","titleColor":"#000000","titleX":-89,"titleY":312,"titleAngle":-90,"titleBaseline":"middle","titleAlign":"center"}},
"shape":{"field":"series","type":"nominal","scale":{"domain":["SSFG","SSFG 20% w/v","Enfamil AR 20 kcal","Enfamil AR 20 kcal 20% w/v","Enfamil AR 24 kcal","Enfamil AR 24 kcal 20% w/v"],"range":["diamond","diamond","M-1,-1L1,1M1,-1L-1,1","M-1,-1L1,1M1,-1L-1,1M0,-1.25L0,1.25","circle","circle"]},
 "legend":{"title":" ","titleFontSize":6,"titlePadding":1,"orient":"none","legendX":35,"legendY":18,"direction":"horizontal","columns":2,"columnPadding":112,"rowPadding":20,"padding":10,"strokeColor":"#595959","fillColor":"#ffffff","labelFont":"Liberation Sans","labelFontSize":25,"labelColor":"#000000","labelLimit":500,"labelOffset":-8,"symbolSize":110,"symbolStrokeWidth":1.5,"symbolOpacity":1,
  "encode":{"legend":{"update":{"strokeWidth":{"value":1.5}}}}}},
"fill":{"field":"series","type":"nominal","scale":{"domain":["SSFG","SSFG 20% w/v","Enfamil AR 20 kcal","Enfamil AR 20 kcal 20% w/v","Enfamil AR 24 kcal","Enfamil AR 24 kcal 20% w/v"],"range":["#a6a6a6","#ffffff","transparent","transparent","#d9d9d9","#ffffff"]}},
"stroke":{"field":"series","type":"nominal","scale":{"domain":["SSFG","SSFG 20% w/v","Enfamil AR 20 kcal","Enfamil AR 20 kcal 20% w/v","Enfamil AR 24 kcal","Enfamil AR 24 kcal 20% w/v"],"range":["#262626","#000000","#a6a6a6","#000000","#000000","#000000"]}}
}
}
